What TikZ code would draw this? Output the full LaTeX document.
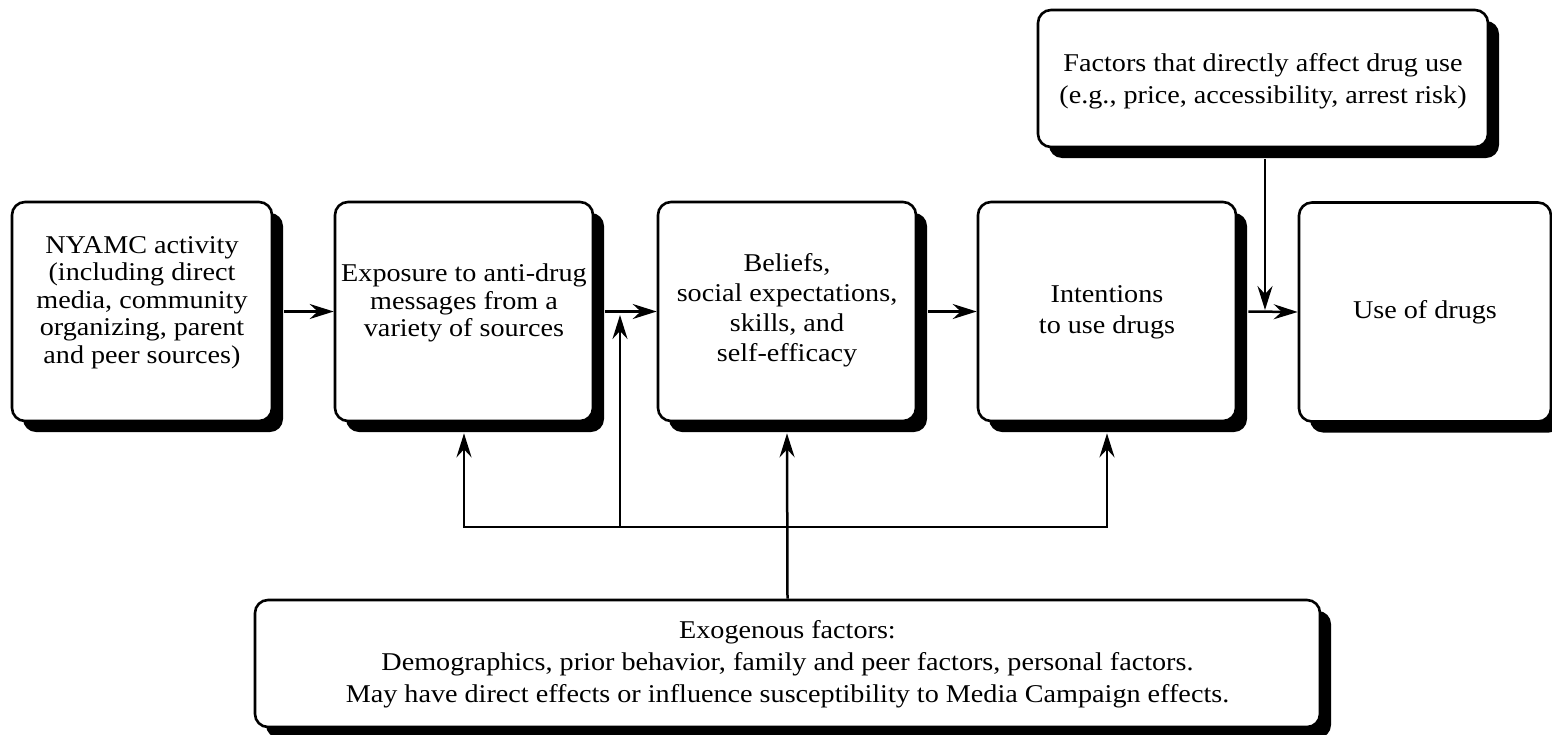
\documentclass[tikz,border=0pt]{standalone}
\usepackage{fontspec}
\setmainfont{Liberation Serif}[FakeStretch=1.1]
\usetikzlibrary{shadows,arrows.meta}
\tikzset{
  boxnode/.style={draw, line width=2.6pt, rounded corners=13pt, fill=white, inner sep=0pt,
    drop shadow={shadow xshift=11pt, shadow yshift=-11pt, opacity=1, fill=black}},
  txt/.style={align=center, inner sep=0pt},
  tip/.tip={Stealth[length=24pt,width=15pt,inset=8pt]},
  arr/.style={line width=2.5pt, -tip},
  ln/.style={line width=2.5pt}
}
\newcommand{\boxfont}[1]{\fontsize{25.6}{#1}\selectfont}
\begin{document}
\begin{tikzpicture}[x=1pt,y=-1pt]
\useasboundingbox (0,0) rectangle (1552,734);

% boxes
\node[boxnode, minimum width=260pt, minimum height=219pt] (nyamc) at (142,311.5) {};
\node[boxnode, minimum width=258pt, minimum height=219pt] (expo) at (464,311.5) {};
\node[boxnode, minimum width=258pt, minimum height=219pt] (beliefs) at (787,311.5) {};
\node[boxnode, minimum width=258pt, minimum height=219pt] (intent) at (1107,311.5) {};
\node[boxnode, minimum width=252pt, minimum height=219pt] (use) at (1425,312) {};
\node[boxnode, minimum width=450pt, minimum height=137pt] (factors) at (1263,78.5) {};
\node[boxnode, minimum width=1065pt, minimum height=127pt] (exo) at (787.5,663.5) {};

% texts
\node[txt, font=\boxfont{27.5}] (nyamctxt) at (142,302.5)
  {NYAMC activity\\(including direct\\media, community\\organizing, parent\\and peer sources)};
\node[txt, font=\boxfont{27.5}] (expotxt) at (464,303)
  {Exposure to anti-drug\\messages from a\\variety of sources};
\node[txt, font=\boxfont{30}] (beliefstxt) at (787,310)
  {Beliefs,\\social expectations,\\skills, and\\self-efficacy};
\node[txt, font=\boxfont{31}] (intenttxt) at (1107,312)
  {Intentions\\to use drugs};
\node[txt, font=\boxfont{31}] (usetxt) at (1425,312) {Use of drugs};
\node[txt, font=\boxfont{32}] (factorstxt) at (1263,81)
  {Factors that directly affect drug use\\(e.g., price, accessibility, arrest risk)};
\node[txt, font=\boxfont{32}] (exotxt) at (787.5,664)
  {Exogenous factors:\\Demographics, prior behavior, family and peer factors, personal factors.\\May have direct effects or influence susceptibility to Media Campaign effects.};

% shadow edges and junctions
\coordinate (expob) at ([yshift=-11pt]expo.south);
\coordinate (beliefsb) at ([yshift=-11pt]beliefs.south);
\coordinate (intentb) at ([yshift=-11pt]intent.south);
\coordinate (factorsb) at ([xshift=2pt,yshift=-11pt]factors.south);
\coordinate (jf) at (1265,310);
\coordinate (bl) at (expo.south |- 0,527);
\coordinate (br) at (intent.south |- 0,527);
\coordinate (bm) at (620,527);
\coordinate (jm) at (620,315);

% main chain
\draw[arr] ([xshift=11pt]nyamc.east) -- (expo.west);
\draw[arr] ([xshift=11pt]expo.east) -- (beliefs.west);
\draw[arr] ([xshift=11pt]beliefs.east) -- (intent.west);
\draw[arr] ([xshift=11pt]intent.east) -- (use.west);
\draw[arr] (factorsb) -- (jf);

% exogenous influences
\draw[arr] (exo.north) -- (beliefsb);
\draw[ln, tip-tip] (expob) -- (bl) -- (br) -- (intentb);
\draw[arr] (bm) -- (jm);
\end{tikzpicture}
\end{document}
